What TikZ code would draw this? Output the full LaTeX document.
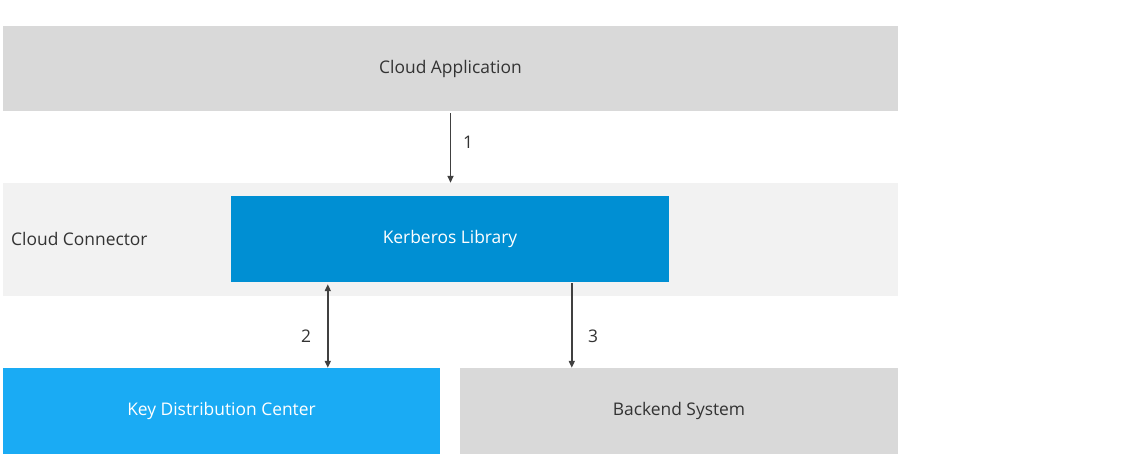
\documentclass[tikz,border=0pt]{standalone}
\usepackage{fontspec}
\setmainfont{Open Sans}
\usepackage{xcolor}
\usetikzlibrary{positioning, calc, arrows.meta}

\definecolor{boxgray}{HTML}{D9D9D9}
\definecolor{conngray}{HTML}{F2F2F2}
\definecolor{kerbblue}{HTML}{008FD3}
\definecolor{kdcblue}{HTML}{1AABF4}
\definecolor{txtgray}{HTML}{333333}
\definecolor{arrgray}{HTML}{404040}

\begin{document}
\begin{tikzpicture}[x=1pt, y=-1pt,
    font=\fontsize{17.4}{20}\selectfont,
    block/.style={rectangle, inner sep=0pt, text=txtgray},
    flow/.style={draw=arrgray, line width=1.6pt, >={Triangle[length=7pt,width=6pt]}},
    num/.style={text=txtgray}]
  \useasboundingbox (0,0) rectangle (1137,456);

  % Layers
  \node[block, fill=boxgray, minimum width=895pt, minimum height=85pt] (app) at (450.5,68.5) {Cloud Application};
  \node[block, fill=conngray, minimum width=895pt, minimum height=113pt] (conn) at (450.5,239.5) {};
  \node[block, anchor=west] (connlabel) at (11,239) {Cloud Connector};
  \node[block, fill=kerbblue, text=white, minimum width=438pt, minimum height=86pt] (kerb) at (450,239) {Kerberos Library};

  % Bottom systems
  \node[block, fill=kdcblue, text=white, minimum width=437pt, minimum height=86pt] (kdc) at (221.5,411) {Key Distribution Center};
  \node[block, fill=boxgray, minimum width=438pt, minimum height=86pt] (backend) at (679,411) {Backend System};

  % Arrow ends
  \coordinate (a2top) at ($(kerb.south west)+(97,2)$);
  \coordinate (a3top) at ($(kerb.south west)+(341,1)$);

  % Flows
  \draw[flow, ->] ($(app.south)+(0,2)$) -- (app.south |- conn.north);
  \draw[flow, <->] (a2top) -- (a2top |- kdc.north);
  \draw[flow, ->] (a3top) -- (a3top |- backend.north);

  % Step numbers
  \node[num] (n1) at (468,142) {1};
  \node[num] (n2) at (306,336) {2};
  \node[num] (n3) at (593,336) {3};
\end{tikzpicture}
\end{document}
